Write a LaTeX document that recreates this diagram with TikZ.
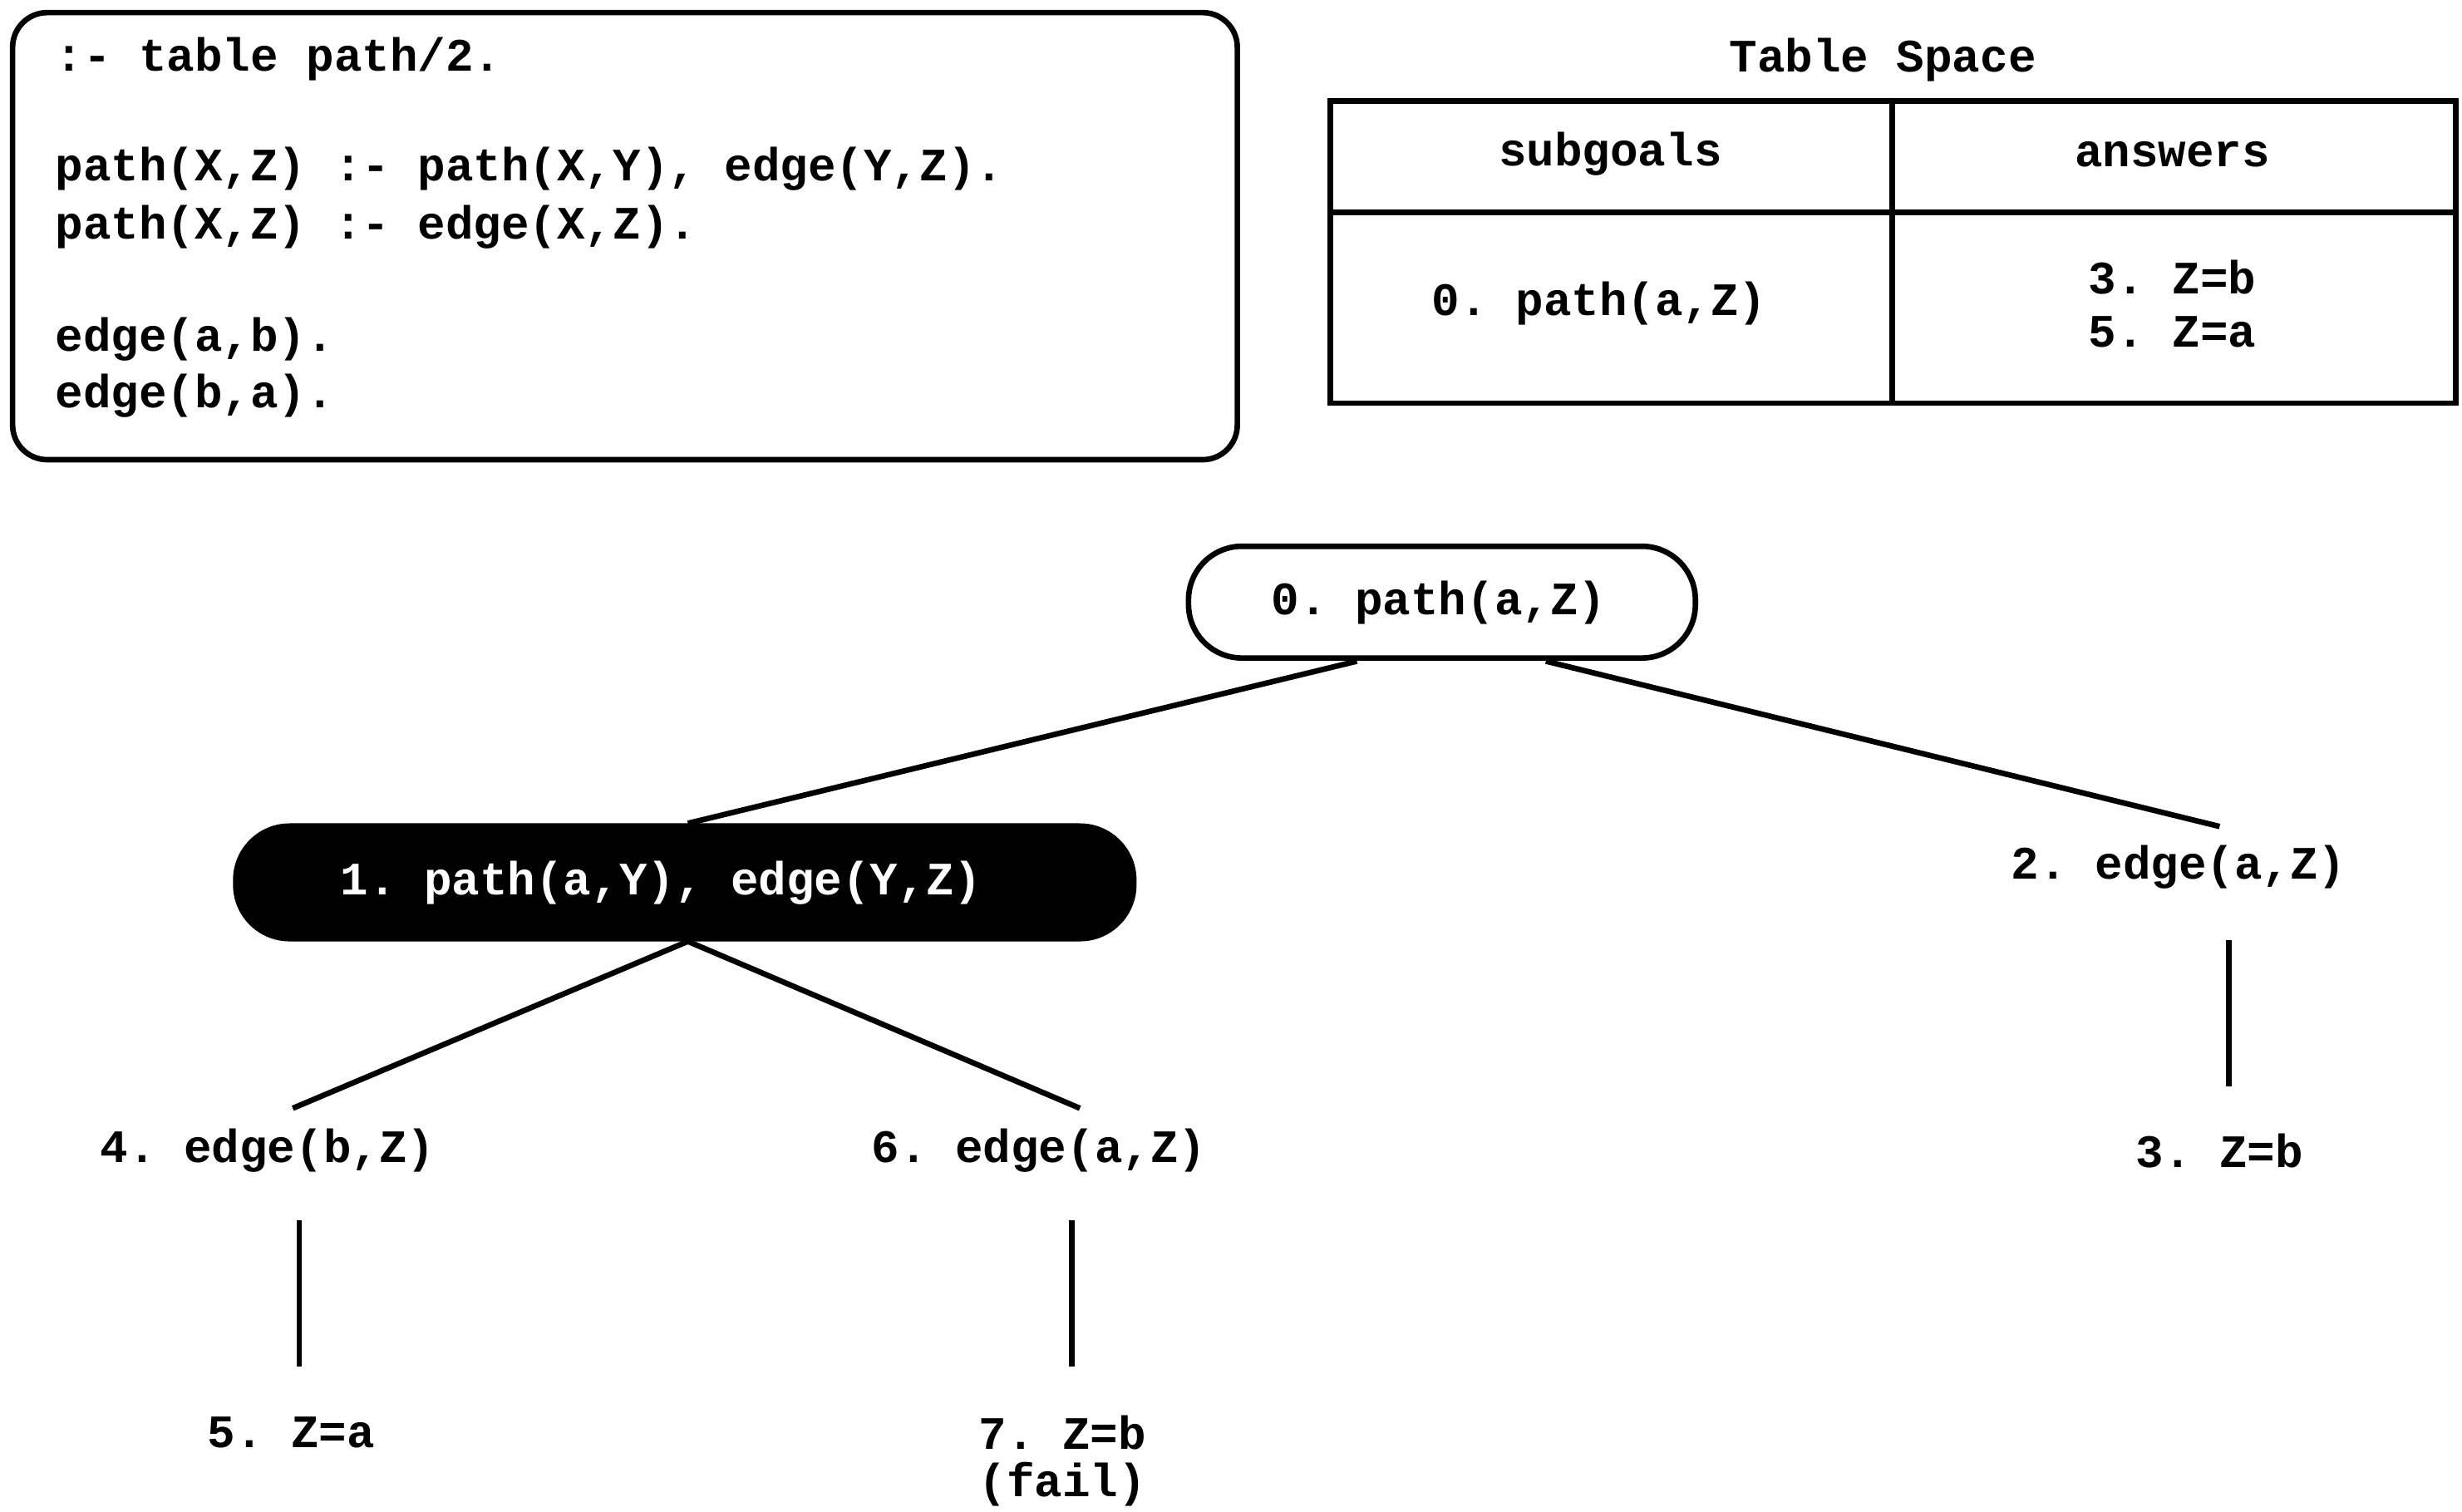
\documentclass[tikz,border=0pt]{standalone}
\usepackage{fontspec}
\setmonofont{Liberation Mono}
\begin{document}
\begin{tikzpicture}[x=0.05cm,y=-0.05cm,
  txt/.style={font=\fontsize{42}{50}\selectfont\ttfamily\bfseries,inner sep=0pt},
  ln/.style={line width=5pt},
  box/.style={line width=5pt,rounded corners=1.1cm}]
\useasboundingbox (0,0) rectangle (1564,960);
% code box
\draw[box] (8,8) rectangle (786,292);
\foreach \y/\t in {38/{:- table path/2.},108/{path(X,Z) :- path(X,Y), edge(Y,Z).},145/{path(X,Z) :- edge(X,Z).},216/{edge(a,b).},252/{edge(b,a).}}
  \node[txt,anchor=west] at (35,\y) {\strut\t};
% table
\node[txt] (ts) at (1196,38) {Table Space};
\draw[ln] (845,64) rectangle (1560,256);
\draw[ln] (1202,64) -- (1202,256) (845,135) -- (1560,135);
\node[txt] (sg) at (1023,98) {subgoals};
\node[txt] (an) at (1380,98) {answers};
\node[txt] (t0) at (1016,193) {0. path(a,Z)};
\node[txt] (t3) at (1380,176) {3. Z=b};
\node[txt] (t5) at (1380,211) {5. Z=a};
% tree
\draw[line width=5pt,rounded corners=1.7cm] (755,347) rectangle (1077,418);
\node[txt] (n0) at (914,383) {0. path(a,Z)};
\fill[rounded corners=1.8cm] (148,523) rectangle (722,598);
\node[txt,text=white] (n1) at (420,561) {1. path(a,Y), edge(Y,Z)};
\node[txt] (n2) at (1384,551) {2. edge(a,Z)};
\node[txt] (n4) at (170,731) {4. edge(b,Z)};
\node[txt] (n6) at (660,731) {6. edge(a,Z)};
\node[txt] (n3) at (1410,731) {3. Z=b};
\node[txt] (n5) at (185,910) {5. Z=a};
\node[txt] (n7) at (675,910) {7. Z=b};
\node[txt] (nf) at (675,943) {(fail)};
\coordinate (a0) at (862,420); \coordinate (b0) at (982,420);
\coordinate (a1) at (437,523); \coordinate (c1) at (437,598);
\coordinate (a2) at (1410,525);
\coordinate (a4) at (186,704); \coordinate (a6) at (686,704);
\draw[ln] (a0) -- (a1);
\draw[ln] (b0) -- (a2);
\draw[ln] (c1) -- (a4);
\draw[ln] (c1) -- (a6);
\draw[ln] (190,775) coordinate (u4) -- (190,868) coordinate (d4);
\draw[ln] (681,775) coordinate (u6) -- (681,868) coordinate (d6);
\draw[ln] (1416,597) coordinate (u2) -- (1416,690) coordinate (d2);
\end{tikzpicture}
\end{document}
